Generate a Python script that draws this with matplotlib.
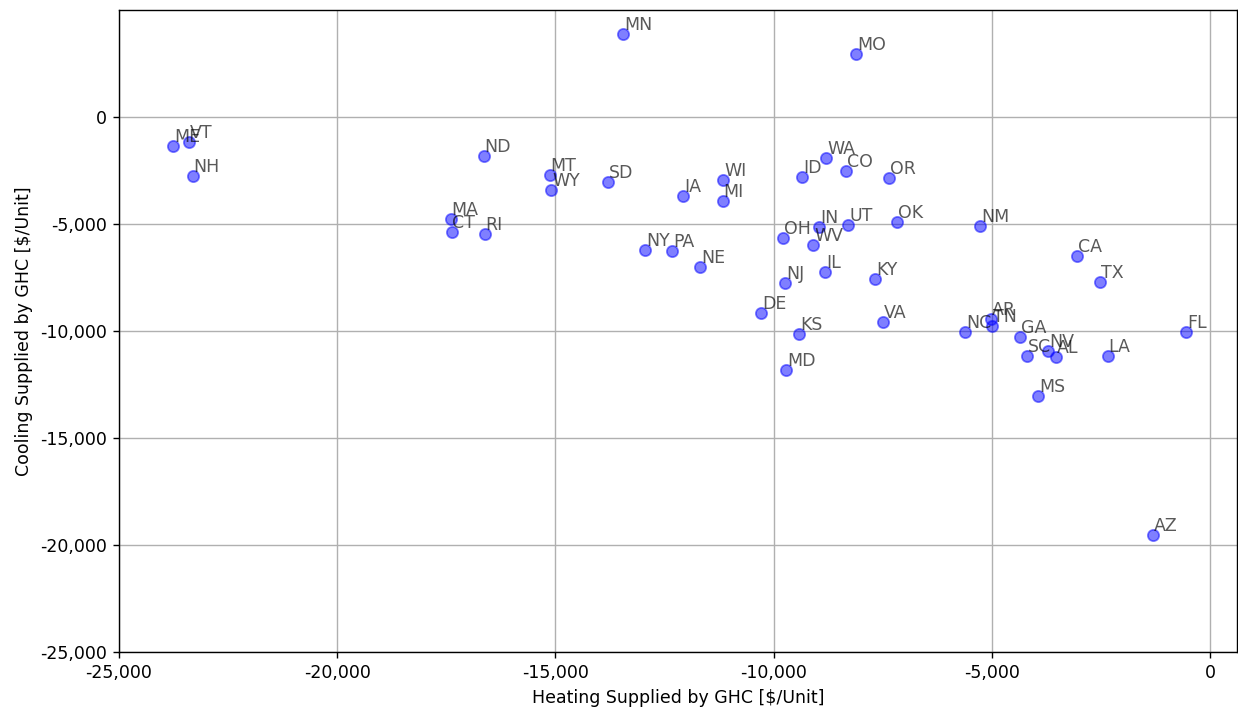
import matplotlib
matplotlib.use("Agg")
import matplotlib.pyplot as plt
from matplotlib.ticker import FuncFormatter

states = ["ME", "VT", "NH", "ND", "MT", "WY", "SD", "MA", "CT", "RI", "IA", "WI",
          "MI", "NY", "PA", "NE", "MN", "MO", "WA", "ID", "CO", "OR", "OH", "IN",
          "UT", "OK", "WV", "NJ", "IL", "KY", "NM", "DE", "KS", "VA", "MD", "NC",
          "AR", "TN", "GA", "SC", "NV", "AL", "LA", "MS", "CA", "TX", "FL", "AZ"]
heating = [-23760, -23400, -23310, -16640, -15130, -15090, -13800, -17400, -17380,
           -16620, -12070, -11150, -11170, -12940, -12320, -11680, -13440, -8100,
           -8790, -9340, -8330, -7350, -9780, -8950, -8290, -7170, -9090, -9730,
           -8810, -7670, -5270, -10280, -9410, -7490, -9710, -5610, -5010, -4990,
           -4350, -4190, -3710, -3530, -2340, -3940, -3040, -2520, -550, -1300]
cooling = [-1360, -1170, -2760, -1830, -2720, -3420, -3040, -4780, -5380, -5480,
           -3700, -2950, -3930, -6230, -6270, -7020, 3890, 2950, -1920, -2810,
           -2530, -2860, -5660, -5150, -5060, -4920, -5990, -7770, -7260, -7580,
           -5100, -9180, -10160, -9600, -11840, -10070, -9460, -9780, -10300,
           -11190, -10960, -11240, -11190, -13060, -6510, -7720, -10070, -19520]

DPI = 125
fig = plt.figure(figsize=(1238 / DPI, 707 / DPI), dpi=DPI)
ax = fig.add_axes([119 / 1238, 55 / 707, 1118 / 1238, 642 / 707])
ax.scatter(heating, cooling, s=42, color="blue", alpha=0.5, zorder=3)
for s, x, y in zip(states, heating, cooling):
    ax.annotate(s, (x, y), xytext=(0.5, 2.3), textcoords="offset points",
                fontsize=10, color="black", alpha=0.65, zorder=4)

ax.set_xlim(-25000, 620)
ax.set_ylim(-25000, 4990)
fmt = FuncFormatter(lambda v, p: f"{v:,.0f}")
ax.xaxis.set_major_formatter(fmt)
ax.yaxis.set_major_formatter(fmt)
ax.grid(True, zorder=0)
ax.set_axisbelow(True)
ax.set_xlabel("Heating Supplied by GHC [$/Unit]")
ax.set_ylabel("Cooling Supplied by GHC [$/Unit]")
fig.savefig("out.png", dpi=DPI)
